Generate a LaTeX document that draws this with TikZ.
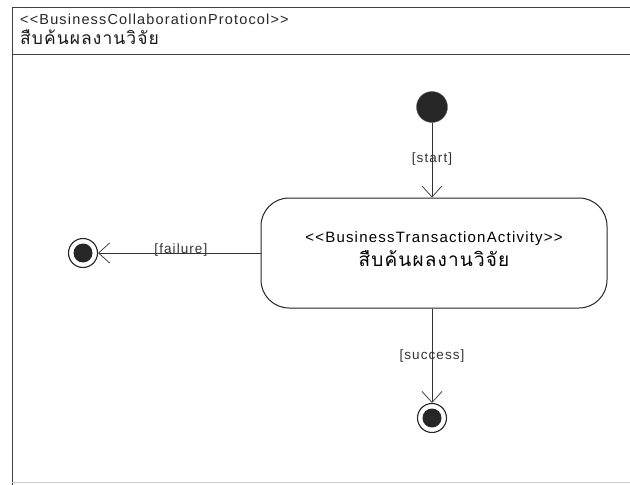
\documentclass[tikz,border=0pt]{standalone}
\usepackage{fontspec}
\setmainfont{Liberation Sans}[LetterSpace=8]
\newfontfamily\thaifont[Script=Thai,LetterSpace=6]{Loma}
\usetikzlibrary{arrows.meta}
\tikzset{
  frameline/.style={draw=black!75, line width=1pt},
  flow/.style={draw=black!80, line width=0.7pt, -{Straight Barb[length=11pt,width=20pt,line width=0.7pt]}},
  guard/.style={font=\fontsize{13.5}{15}\selectfont, text=black!80, inner sep=1pt},
  activity/.style={draw=black!85, line width=1pt, rounded corners=28pt, minimum width=346pt, minimum height=110pt, align=center, font=\fontsize{15}{17}\selectfont},
  startdot/.style={circle, fill=black!85, draw=black!60, minimum size=31pt, inner sep=0pt},
  enddot/.style={circle, draw=black!85, line width=1.1pt, fill=white, minimum size=29pt, inner sep=0pt, path picture={\fill[black!85] (path picture bounding box.center) circle (9.5pt);}}
}
\begin{document}
\begin{tikzpicture}[x=1pt,y=-1pt]
  \useasboundingbox[fill=white] (0,0) rectangle (630,485);
  % protocol frame with header compartment
  \draw[frameline] (630,7) -- (12,7) -- (12,485);
  \draw[frameline] (12,54) -- (630,54);
  \draw[black!20, line width=0.6pt] (12,482) -- (630,482);
  \node[anchor=west, inner sep=0pt, font=\fontsize{14.5}{16}\selectfont, text=black!85] (hdr1) at (20,19) {<{}<BusinessCollaborationProtocol>{}>};
  \node[anchor=west, inner sep=0pt, font=\fontsize{17.5}{19}\selectfont\thaifont, text=black!90] (hdr2) at (20,37) {สืบค้นผลงานวิจัย};
  % states
  \node[startdot] (start) at (432,107) {};
  \node[activity, text depth=8pt] (act) at (434,253) {<{}<BusinessTransactionActivity>{}>\\[4pt]{\thaifont\fontsize{19}{20}\selectfont สืบค้นผลงานวิจัย}};
  \node[enddot] (fail) at (83,253) {};
  \node[enddot] (ok) at (432,418) {};
  % transitions
  \draw[flow] (start) -- node[guard, pos=0.48] {[start]} (start |- act.north);
  \draw[flow] (act.west) -- node[guard, pos=0.49, above=-5pt] {[failure]} (fail);
  \draw[flow] (act.south -| ok) -- node[guard, pos=0.5] {[success]} (ok);
\end{tikzpicture}
\end{document}
